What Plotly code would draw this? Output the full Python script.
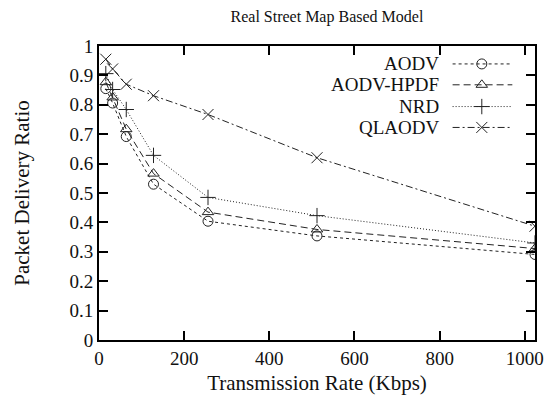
import plotly.graph_objects as go

rates = [16, 32, 64, 128, 256, 512, 1024]
aodv = [0.855, 0.806, 0.692, 0.530, 0.404, 0.354, 0.291]
aodv_hpdf = [0.877, 0.825, 0.717, 0.566, 0.435, 0.376, 0.311]
nrd = [0.906, 0.852, 0.784, 0.628, 0.485, 0.423, 0.330]
qlaodv = [0.955, 0.922, 0.870, 0.831, 0.767, 0.620, 0.387]

names = ["AODV", "AODV-HPDF", "NRD", "QLAODV"]
series = [aodv, aodv_hpdf, nrd, qlaodv]
dashes = ["3px,3px", "7px,4px", "1px,2px", "7px,3px,2px,3px"]
symbols = ["circle-open", "triangle-up-open", "cross-thin-open", "x-thin-open"]
sizes = [10, 10, 11, 11]
col = "#222222"

x_ticks = [0, 200, 400, 600, 800, 1000]
y_ticks = [0, 0.1, 0.2, 0.3, 0.4, 0.5, 0.6, 0.7, 0.8, 0.9, 1]
y_labels = ["0", "0.1", "0.2", "0.3", "0.4", "0.5", "0.6", "0.7", "0.8", "0.9", "1"]

FONT = "Liberation Serif"

fig = go.Figure()
for n, s, d, sym, sz in zip(names, series, dashes, symbols, sizes):
    fig.add_trace(go.Scatter(
        x=rates, y=s, mode="lines+markers", name=n, showlegend=False,
        line=dict(color=col, width=1, dash=d),
        marker=dict(symbol=sym, size=sz, color=col, line=dict(color=col, width=1)),
    ))

# gnuplot-style legend (text right, sample left) on an overlay axis
leg_y = [0.939, 0.868, 0.794, 0.723]
for n, d, sym, sz, yy in zip(names, dashes, symbols, sizes, leg_y):
    fig.add_trace(go.Scatter(
        x=[0.811, 0.948], y=[yy, yy], mode="lines", xaxis="x2", yaxis="y2",
        showlegend=False, hoverinfo="skip",
        line=dict(color=col, width=1, dash=d),
    ))
    fig.add_trace(go.Scatter(
        x=[0.878], y=[yy], mode="markers", xaxis="x2", yaxis="y2",
        showlegend=False, hoverinfo="skip",
        marker=dict(symbol=sym, size=sz, color=col, line=dict(color=col, width=1)),
    ))
    fig.add_annotation(x=0.784, y=yy, xref="x2", yref="y2", text=n,
                       showarrow=False, xanchor="right", yanchor="middle",
                       font=dict(size=19, color="#111111", family=FONT))

axis_common = dict(showline=True, linecolor="black", linewidth=2, mirror="allticks",
                   ticks="inside", ticklen=9, tickwidth=1.5, tickcolor="black",
                   showgrid=False, zeroline=False,
                   tickfont=dict(family=FONT, size=19, color="#111111"))

fig.update_layout(
    width=556, height=403,
    margin=dict(l=99, r=13, t=46, b=61),
    paper_bgcolor="white", plot_bgcolor="white",
    font=dict(family=FONT, size=19, color="#111111"),
    title=dict(text="Real Street Map Based Model", x=0.588, xref="container",
               xanchor="center", y=0.96, yref="container", yanchor="middle",
               font=dict(size=16, family=FONT)),
    xaxis=dict(range=[0, 1024], tickvals=x_ticks, ticktext=[str(v) for v in x_ticks],
               title=dict(text="Transmission Rate (Kbps)", standoff=8,
                          font=dict(family=FONT, size=21)), **axis_common),
    yaxis=dict(range=[0, 1], tickvals=y_ticks, ticktext=y_labels,
               title=dict(text="Packet Delivery Ratio", standoff=34,
                          font=dict(family=FONT, size=21)), **axis_common),
    xaxis2=dict(overlaying="x", range=[0, 1], visible=False, fixedrange=True),
    yaxis2=dict(overlaying="y", range=[0, 1], visible=False, fixedrange=True),
)

fig.write_html("out.html")
